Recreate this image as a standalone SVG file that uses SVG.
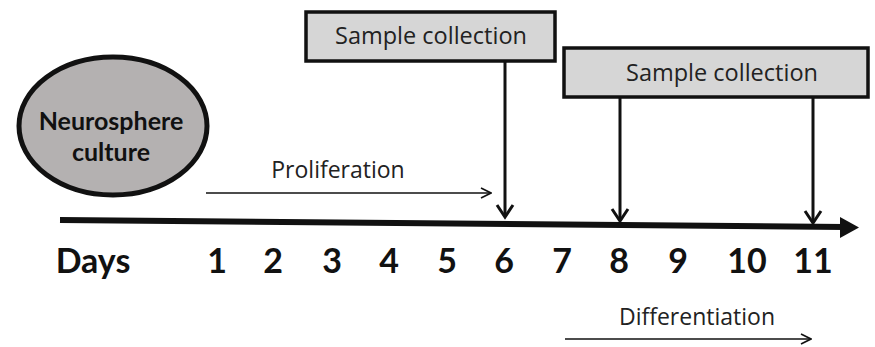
<svg xmlns="http://www.w3.org/2000/svg" width="875" height="347" viewBox="0 0 875 347">
<style>
.lbl{font-family:"Open Sans","Liberation Sans",sans-serif;fill:#222;text-anchor:middle;}
.bold{font-family:Lato,"Liberation Sans",sans-serif;font-weight:bold;fill:#111;text-anchor:middle;}
.day{font-family:Lato,"Liberation Sans",sans-serif;font-weight:bold;font-size:34px;fill:#111;text-anchor:middle;}
.box{fill:#d6d6d6;stroke:#111;stroke-width:3.5;}
.drop{fill:none;stroke:#111;stroke-width:3;}
.thin{fill:none;stroke:#111;stroke-width:1.6;}
</style>
<defs>
<marker id="vee" markerWidth="12" markerHeight="12" viewBox="0 0 12 12" refX="11" refY="6" orient="auto" markerUnits="userSpaceOnUse">
<path d="M1,1 L11,6 L1,11" fill="none" stroke="#111" stroke-width="1.6"/>
</marker>
</defs>
<rect width="875" height="347" fill="#fff"/>
<g id="neurosphere">
<ellipse cx="113" cy="126" rx="94" ry="69" fill="#b4b1b1" stroke="#111" stroke-width="5"/>
<text class="bold" x="111" y="130" font-size="25">Neurosphere</text>
<text class="bold" x="111" y="161" font-size="25">culture</text>
</g>
<g id="sample1">
<rect class="box" x="306" y="12" width="249" height="49"/>
<text class="lbl" x="431" y="44" font-size="23.5">Sample collection</text>
</g>
<g id="sample2">
<rect class="box" x="564" y="48" width="304" height="49"/>
<text class="lbl" x="722" y="81" font-size="23.5">Sample collection</text>
</g>
<g id="connectors">
<path d="M60,220 L845,227" stroke="#111" stroke-width="6" fill="none"/>
<path d="M859,227.5 L840,217 L840,238 Z" fill="#111"/>
<path class="drop" d="M505,61 V216"/>
<path class="drop" d="M497,205 L505,217 L513,205"/>
<path class="drop" d="M620,97 V220"/>
<path class="drop" d="M612,209 L620,221 L628,209"/>
<path class="drop" d="M813,97 V222"/>
<path class="drop" d="M805,211 L813,223 L821,211"/>
<path class="thin" d="M206,193 H491" marker-end="url(#vee)"/>
<path class="thin" d="M565,339 H811" marker-end="url(#vee)"/>
</g>
<g id="labels">
<text class="lbl" x="338" y="178" font-size="23">Proliferation</text>
<text class="lbl" x="697" y="325" font-size="23">Differentiation</text>
</g>
<g id="days">
<text class="day" x="93" y="273">Days</text>
<text class="day" x="217" y="273">1</text>
<text class="day" x="273" y="273">2</text>
<text class="day" x="332" y="273">3</text>
<text class="day" x="389" y="273">4</text>
<text class="day" x="447" y="273">5</text>
<text class="day" x="504" y="273">6</text>
<text class="day" x="562" y="273">7</text>
<text class="day" x="619" y="273">8</text>
<text class="day" x="678" y="273">9</text>
<text class="day" x="747" y="273">10</text>
<text class="day" x="813" y="273">11</text>
</g>
</svg>
